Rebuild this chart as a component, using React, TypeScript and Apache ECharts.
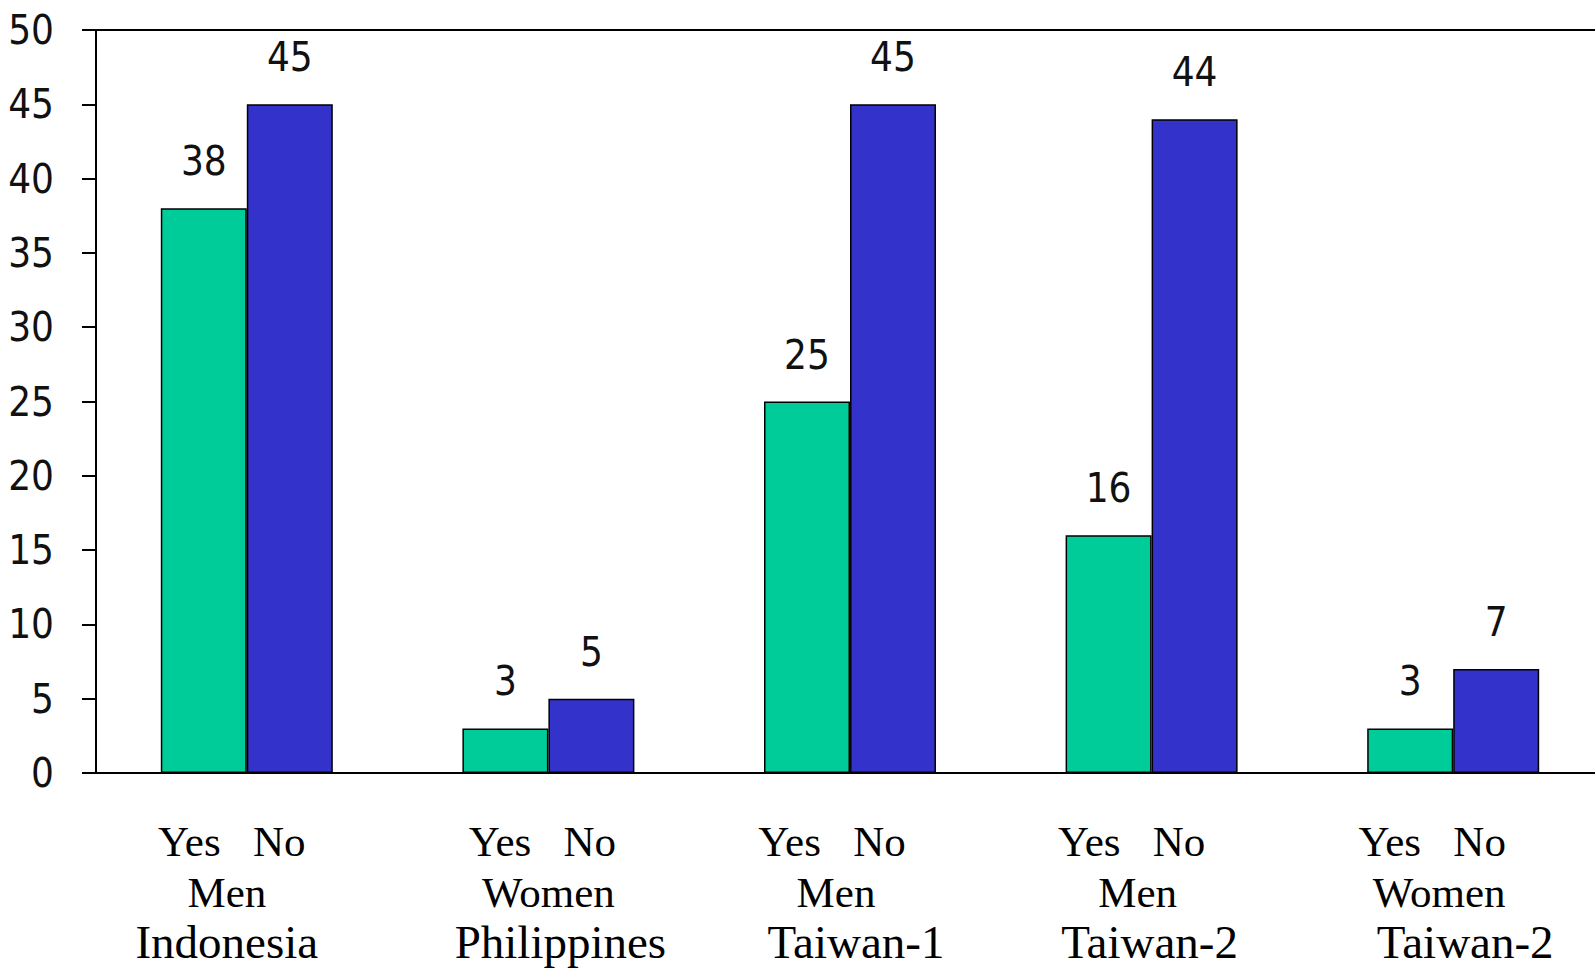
import React, { useEffect, useRef } from "react";
import * as echarts from "echarts";

const countries = ["Indonesia", "Philippines", "Taiwan-1", "Taiwan-2", "Taiwan-2"];
const groups = ["Men", "Women", "Men", "Men", "Women"];
const answers = ["Yes", "No"];
const yesValues = [38, 3, 25, 16, 3];
const noValues = [45, 5, 45, 44, 7];
const yMin = 0;
const yMax = 50;
const yStep = 5;

const categories = countries.map((c, i) => `${c}|${groups[i]}`);

// horizontal nudges (px) of each label line, per category, to follow the reference layout
const answerShift = [-15, -6, -18, -20, -21];
const groupShift = [-20, 0, -14, -14, -14];
const countryShift = [-20, 12, 6, -2, 12];

const digitFont = "'Liberation Sans Narrow', 'DejaVu Sans Condensed', 'Liberation Sans', sans-serif";
const serifFont = "'Liberation Serif', 'Times New Roman', 'DejaVu Serif', serif";

const pad = (d: number) => (d >= 0 ? [0, 0, 0, 2 * d] : [0, -2 * d, 0, 0]);

export default function App() {
  const ref = useRef<HTMLDivElement>(null);
  useEffect(() => {
    if (!ref.current) return;
    const chart = echarts.init(ref.current, null, { renderer: "svg" });
    const barLabel = {
      show: true,
      position: "top",
      distance: 27,
      fontFamily: digitFont,
      fontSize: 40,
      color: "#111",
    };
    const rich: Record<string, any> = {};
    categories.forEach((_, i) => {
      rich[`a${i}`] = { fontFamily: serifFont, fontSize: 43, lineHeight: 51, color: "#000", padding: pad(answerShift[i]) };
      rich[`g${i}`] = { fontFamily: serifFont, fontSize: 43, lineHeight: 50, color: "#000", padding: pad(groupShift[i]) };
      rich[`c${i}`] = { fontFamily: serifFont, fontSize: 47, lineHeight: 50, color: "#000", padding: pad(countryShift[i]) };
    });
    chart.setOption({
      animation: false,
      backgroundColor: "#fff",
      grid: { left: 96, top: 30, bottom: 197, right: 0, containLabel: false },
      xAxis: [
        {
          type: "category",
          data: categories,
          position: "bottom",
          axisLine: { show: true, lineStyle: { color: "#000", width: 2 } },
          axisTick: { show: false },
          axisLabel: {
            interval: 0,
            margin: 43,
            formatter: (v: string, i: number) => {
              const [c, g] = v.split("|");
              return `{a${i}|${answers[0]}   ${answers[1]}}\n{g${i}|${g}}\n{c${i}|${c}}`;
            },
            rich,
          },
        },
        {
          type: "category",
          data: categories,
          position: "top",
          axisLine: { show: true, lineStyle: { color: "#000", width: 2 } },
          axisTick: { show: false },
          axisLabel: { show: false },
        },
      ],
      yAxis: {
        type: "value",
        min: yMin,
        max: yMax,
        interval: yStep,
        axisLine: { show: true, lineStyle: { color: "#000", width: 2 } },
        axisTick: { show: true, length: 14, lineStyle: { color: "#000", width: 2 } },
        splitLine: { show: false },
        axisLabel: {
          margin: 42,
          fontFamily: digitFont,
          fontSize: 40,
          color: "#111",
        },
      },
      series: [
        {
          name: answers[0],
          type: "bar",
          data: yesValues,
          barWidth: 86,
          barGap: "0%",
          itemStyle: { color: "#00CC99", borderColor: "#000", borderWidth: 1.5 },
          label: barLabel,
        },
        {
          name: answers[1],
          type: "bar",
          data: noValues,
          barWidth: 86,
          barGap: "0%",
          itemStyle: { color: "#3333CC", borderColor: "#000", borderWidth: 1.5 },
          label: barLabel,
        },
      ],
    });
    return () => chart.dispose();
  }, []);
  return (
    <div
      style={{ position: "fixed", left: 0, top: 0, width: 1595, height: 970, overflow: "hidden", background: "#fff" }}
    >
      <div ref={ref} style={{ width: 1604, height: 970 }} />
    </div>
  );
}
